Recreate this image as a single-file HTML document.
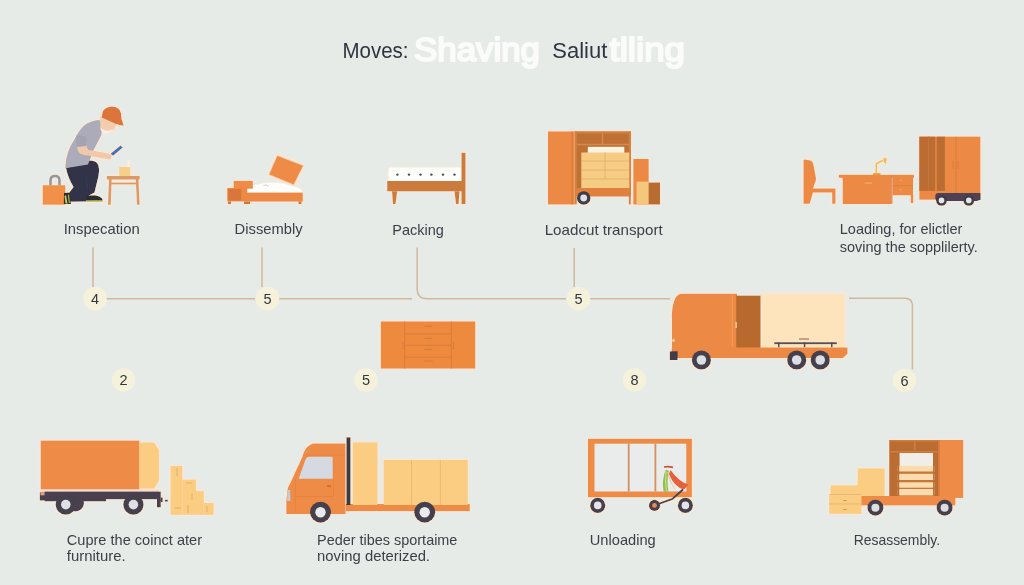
<!DOCTYPE html>
<html><head><meta charset="utf-8">
<style>
html,body{margin:0;padding:0;width:1024px;height:585px;overflow:hidden;background:#e6ebe8;}
svg{position:absolute;left:0;top:0;display:block;filter:blur(0.3px);}
text{font-family:"Liberation Sans",sans-serif;}
</style></head>
<body>
<svg width="1024" height="585" viewBox="0 0 1024 585">
<defs>
<filter id="halo" x="-5%" y="-5%" width="110%" height="110%">
<feMorphology in="SourceAlpha" operator="dilate" radius="0.9" result="d"/>
<feFlood flood-color="#fbe7d3" result="c"/>
<feComposite in="c" in2="d" operator="in" result="h"/>
<feMerge><feMergeNode in="h"/><feMergeNode in="SourceGraphic"/></feMerge>
</filter>
<radialGradient id="bg" cx="50%" cy="45%" r="75%">
<stop offset="0" stop-color="#e9edea"/>
<stop offset="1" stop-color="#e3e8e4"/>
</radialGradient>
</defs>
<rect width="1024" height="585" fill="#e6ebe8"/>

<!-- TITLE -->
<g id="title">
<text x="342.5" y="58.3" font-size="22.5" fill="#2e3540" textLength="66" lengthAdjust="spacingAndGlyphs">Moves:</text>
<text x="414" y="61" font-size="34" fill="#fafbfa" stroke="#fafbfa" stroke-width="2" stroke-linejoin="round" textLength="126" lengthAdjust="spacingAndGlyphs">Shaving</text>
<text x="552.3" y="58.3" font-size="22.5" fill="#2e3540" textLength="55" lengthAdjust="spacingAndGlyphs">Saliut</text>
<text x="609.5" y="61" font-size="34" fill="#fafbfa" stroke="#fafbfa" stroke-width="2" stroke-linejoin="round" textLength="75.5" lengthAdjust="spacingAndGlyphs">tlling</text>
</g>

<!-- LABELS -->
<g fill="#3d4147" font-size="14.5">
<text x="63.7" y="234.4" textLength="76" lengthAdjust="spacingAndGlyphs">Inspecation</text>
<text x="234.6" y="234.4" textLength="68" lengthAdjust="spacingAndGlyphs">Dissembly</text>
<text x="392.3" y="234.6" textLength="51.6" lengthAdjust="spacingAndGlyphs">Packing</text>
<text x="544.7" y="234.6" textLength="118" lengthAdjust="spacingAndGlyphs">Loadcut transport</text>
<text x="839.8" y="233.9" textLength="122.6" lengthAdjust="spacingAndGlyphs">Loading, for elictler</text>
<text x="839.8" y="251.5" textLength="138" lengthAdjust="spacingAndGlyphs">soving the sopplilerty.</text>
</g>
<g fill="#3d4147" font-size="15">
<text x="66.8" y="544.9" textLength="135.2" lengthAdjust="spacingAndGlyphs">Cupre the coinct ater</text>
<text x="66.8" y="561.2" textLength="58.8" lengthAdjust="spacingAndGlyphs">furniture.</text>
<text x="317.1" y="544.9" textLength="140.3" lengthAdjust="spacingAndGlyphs">Peder tibes sportaime</text>
<text x="317.1" y="561.2" textLength="112.9" lengthAdjust="spacingAndGlyphs">noving deterized.</text>
<text x="589.8" y="544.6" textLength="65.9" lengthAdjust="spacingAndGlyphs">Unloading</text>
<text x="853.7" y="544.6" textLength="86.4" lengthAdjust="spacingAndGlyphs">Resassembly.</text>
</g>

<!-- CONNECTOR LINES -->
<g stroke="#d3b79b" stroke-width="1.5" fill="none">
<line x1="93" y1="247.5" x2="93" y2="287"/>
<line x1="262" y1="247.5" x2="262" y2="287"/>
<line x1="574.2" y1="248" x2="574.2" y2="287"/>
<line x1="106" y1="298.7" x2="255" y2="298.7"/>
<line x1="279" y1="298.7" x2="412" y2="298.7"/>
<path d="M417.2 247.5 V289 Q417.2 298.7 427 298.7 H566"/>
<line x1="590" y1="298.7" x2="670" y2="298.7"/>
<path d="M849 298.2 H905 Q912.4 298.2 912.4 305.6 V369.6"/>
</g>

<!-- ICON 1: INSPECTION -->
<g id="ic1" filter="url(#halo)">
<!-- bag -->
<path d="M50.5 185.5 V180.5 Q50.5 176 55 176 Q59.5 176 59.5 180.5 V185.5" stroke="#9096a2" stroke-width="2.6" fill="none"/>
<rect x="42.7" y="185.2" width="22.6" height="19.5" fill="#f09048"/>
<!-- table -->
<rect x="106.9" y="176" width="32.8" height="3.5" fill="#d99a68"/>
<rect x="109" y="182.6" width="29" height="1.8" fill="#d99a68"/>
<path d="M109 179 L108 204.7 L110.8 204.7 L111.6 179 Z" fill="#d99a68"/>
<path d="M135.8 179 L137 204.7 L139.6 204.7 L138.4 179 Z" fill="#d99a68"/>
<!-- glass -->
<rect x="119.2" y="167" width="11" height="9" fill="#f4d08a"/>
<path d="M128 167 L129.3 160" stroke="#f6f6f3" stroke-width="1.3"/>
<!-- pants -->
<path d="M66 168 L87 160.6 Q95 160 97.5 163.5 Q100 168 98.5 176 L94.5 192.6 L89 195.5 L86 201.5 L70.5 201.8 Q67.5 197 69 193 L73.5 187 Q68 178 66 168 Z" fill="#30314a"/>
<path d="M86 176 Q88 184 87 190" stroke="#3d3e58" stroke-width="0.8" fill="none"/>
<!-- shoes -->
<path d="M86.5 195.4 L95 195.2 Q101 196.5 102.5 199 L102.5 200.8 L86 201 Z" fill="#2c2d33"/>
<path d="M86 200.3 L102.5 200.3 L102.5 201.8 L86 201.8 Z" fill="#b5bf48"/>
<path d="M64 193 L69.5 192.6 L71 203.9 L63.9 203.9 Z" fill="#2c2d33"/>
<path d="M64.5 196 L66 195 L67.5 203.5 L65.5 203.5 Z" fill="#c8cc4c"/>
<path d="M68 195 L69 194.5 L69.8 203 L68.8 203 Z" fill="#c8cc4c"/>
<!-- torso -->
<path d="M65.4 166 Q66 152 74.4 139.5 Q79 130 83.9 125.7 Q90 121 98 120 L102 121 L101.5 134.7 L93.5 150.3 L88 164.4 L65.3 168.2 Z" fill="#ababb9"/>
<!-- arm -->
<path d="M77.5 143 Q76.5 149 79 152.5 Q82 155 88 155.5 L104 158.5 L110.5 159.5 L112 154.5 L104 152.8 L88 149.8 L85 142 Z" fill="#f1c8a8"/>
<path d="M76 136 Q81 134 86.5 137.5 L86 146 L77 147 Z" fill="#a3a3b1"/>
<!-- head -->
<path d="M100 116 L112 119 L116.5 124 L114 130 L104 131 L100.5 129.9 Z" fill="#f3cdb0"/>
<path d="M100.5 127.5 Q104 131 109 131 Q112 130.5 113.5 129 Q110 133.5 104.5 133 Q101 132 100.5 127.5 Z" fill="#f4f1ec"/>
<!-- cap -->
<path d="M101.9 117.4 Q101.5 107.5 111.5 106.6 Q119.5 106.8 121 113.2 L121.5 119 Q123 122.5 123.6 125.7 Q119 125 116.2 123.9 Z" fill="#db753a"/>
<!-- phone -->
<path d="M110.8 153.6 L120.6 145.4 L122.8 147.5 L113 155.8 Z" fill="#3f72b8"/>
</g>

<!-- ICON 2: DISASSEMBLY -->
<g id="ic2" filter="url(#halo)">
<path d="M247.5 192.8 V187.3 Q257 184.5 265 183 Q274 181.8 282 183.2 L294 186.5 Q300.5 188.5 301.5 190.5 V192.8 Z" fill="#fdfdfc"/>
<path d="M263.5 185.8 L266 184.8 L268.5 186.5" stroke="#b8bec6" stroke-width="0.7" fill="none"/>
<rect x="245.8" y="192.6" width="57" height="9" fill="#ec8a44"/>
<rect x="247" y="201.5" width="3" height="2.5" fill="#c97a3c"/>
<rect x="298.5" y="201.5" width="3" height="2.5" fill="#c97a3c"/>
<rect x="233.6" y="181" width="19.2" height="7.7" fill="#ee8c46"/>
<rect x="227.2" y="188" width="20" height="13.5" fill="#ec8a44"/>
<rect x="228.2" y="189" width="13" height="11.5" fill="#d9773a"/>
<rect x="228" y="201.5" width="3" height="2.5" fill="#c97a3c"/>
<rect x="244" y="201.5" width="3" height="2.5" fill="#c97a3c"/>
<path d="M277.2 155.4 L303.5 165.6 L293.8 184.9 L268.8 174.6 Z" fill="#ee8c46" stroke="#f7d3b3" stroke-width="0.8"/>
</g>

<!-- ICON 3: PACKING BED -->
<g id="ic3" filter="url(#halo)">
<path d="M390 167.6 H460 Q462.5 167.6 462.5 170 V181 H388.5 V170 Q388.5 167.6 391 167.6 Z" fill="#fdfdfc"/>
<g fill="#4a4b55">
<circle cx="397.4" cy="174.6" r="1.2"/><circle cx="409" cy="174.6" r="1.2"/><circle cx="420.5" cy="174.6" r="1.2"/>
<circle cx="431.4" cy="174.6" r="1.2"/><circle cx="443" cy="174.6" r="1.2"/><circle cx="454.5" cy="174.6" r="1.2"/>
</g>
<rect x="387.2" y="181" width="76" height="10.3" fill="#cb7c3e"/>
<path d="M392 191.3 L397.2 191.3 L395.5 204 L393 204 Z" fill="#cb7c3e"/>
<path d="M454.5 191.3 L459.5 191.3 L458.5 204 L456 204 Z" fill="#cb7c3e"/>
<rect x="461.5" y="152.8" width="4" height="51.2" fill="#cb7c3e"/>
</g>

<!-- ICON 4: WARDROBE LOADING -->
<g id="ic4" filter="url(#halo)">
<rect x="574.8" y="131.4" width="56" height="65" fill="#bf7136"/>
<rect x="574.8" y="131.4" width="56" height="2" fill="#d0823f"/>
<rect x="574.8" y="143.8" width="56" height="1.4" fill="#d48a48"/>
<rect x="601.8" y="131.4" width="1.4" height="13" fill="#d48a48"/>
<rect x="628.8" y="131.4" width="2" height="73" fill="#d0823f"/>
<rect x="574.8" y="131.4" width="2" height="73" fill="#d0823f"/>
<rect x="587.8" y="146.8" width="36.5" height="6.5" fill="#fbf3e2"/>
<rect x="581.3" y="152.5" width="48" height="35.7" fill="#f6cc84"/>
<g stroke="#ddaa62" stroke-width="0.7">
<line x1="581.3" y1="161" x2="629.3" y2="161"/>
<line x1="581.3" y1="170" x2="629.3" y2="170"/>
<line x1="581.3" y1="179" x2="629.3" y2="179"/>
<line x1="605" y1="152.5" x2="605" y2="179"/>
</g>
<rect x="576" y="188.2" width="53" height="8" fill="#e0823c"/>
<rect x="548" y="131.4" width="26.8" height="73.1" fill="#ec8a44"/>
<rect x="571.5" y="131.4" width="1.2" height="73.1" fill="#d57b3c"/>
<circle cx="583.7" cy="198" r="6.8" fill="#3f3c45"/>
<circle cx="583.7" cy="198" r="3.4" fill="#dfe2e8"/>
<rect x="633.3" y="159" width="15.4" height="45.5" fill="#ec8a44"/>
<rect x="636.5" y="181.7" width="12.2" height="22.8" fill="#f5c77c"/>
<rect x="648.7" y="182.5" width="11.3" height="22" fill="#b96c31"/>
</g>

<!-- ICON 5: DESK + WARDROBE -->
<g id="ic5" filter="url(#halo)">
<path d="M803.5 160 Q803.5 159.5 805 159.5 L810.5 160.5 Q812.5 161 813.5 165 L816 178.5 Q816.3 181 814.5 184 L813 188.5 L835.5 188.5 L835.5 203.7 L832.2 203.7 L832.2 192.4 L813 192.4 L809.7 203.7 L803.5 203.7 Z" fill="#ec8a44"/>
<rect x="873" y="173" width="7.5" height="2" fill="#e2a848"/><path d="M876.3 173.5 V163.8 L883 160.2" stroke="#e8c060" stroke-width="1.6" fill="none"/><path d="M883.5 157.5 L886.8 158.5 L886 164.5 L883.5 161.5 Z" fill="#e8c060"/>
<rect x="838.8" y="174.8" width="75.2" height="3" fill="#ec8a44"/>
<rect x="842.7" y="176.8" width="49" height="27.2" fill="#ec8a44"/>
<rect x="864.6" y="182.6" width="7.3" height="0.9" fill="#f7b47c"/>
<rect x="892.5" y="176.8" width="20.5" height="18.5" fill="#ec8a44"/>
<rect x="892.5" y="185.4" width="20.5" height="0.7" fill="#d67d3c"/><rect x="899.5" y="179.8" width="2" height="0.8" fill="#f7b47c"/><rect x="899.5" y="189.5" width="2" height="0.8" fill="#f7b47c"/>
<rect x="891.5" y="176.8" width="1" height="27" fill="#d47f3e"/>
<rect x="910.8" y="195" width="2.4" height="8" fill="#ec8a44"/>
<rect x="919.3" y="136.6" width="61.1" height="63.1" fill="#ec8a44"/>
<rect x="919.3" y="136.6" width="16" height="54.3" fill="#bb6c32"/>
<rect x="936.7" y="136.6" width="8.2" height="54.3" fill="#bb6c32"/>
<rect x="928" y="136.6" width="1" height="54.3" fill="#c47538"/>
<rect x="955.6" y="136.6" width="0.8" height="63" fill="#d7793a"/>
<rect x="952.7" y="160.8" width="0.8" height="8.2" fill="#d27a3c"/>
<rect x="957.6" y="160.8" width="0.8" height="8.2" fill="#d27a3c"/>
<rect x="935.3" y="192.9" width="44.4" height="8.2" rx="3" fill="#4f4058"/>
<rect x="977.5" y="193" width="3" height="7" fill="#4a3f55"/>
<circle cx="941.5" cy="200.4" r="5.4" fill="#3f3c45"/>
<circle cx="941.5" cy="200.4" r="2.8" fill="#e4e6ec"/>
<circle cx="968.8" cy="200.4" r="5.4" fill="#3f3c45"/>
<circle cx="968.8" cy="200.4" r="2.8" fill="#e4e6ec"/>
</g>

<!-- ICON 6: DRESSER -->
<g id="ic6" filter="url(#halo)">
<rect x="380.8" y="321.4" width="94.5" height="47.2" fill="#ee8a3e"/>
<g stroke="#d9793a" stroke-width="0.9" fill="none">
<line x1="404.7" y1="321.4" x2="404.7" y2="368.6"/>
<line x1="451.3" y1="321.4" x2="451.3" y2="368.6"/>
<line x1="404.7" y1="333.9" x2="451.3" y2="333.9"/>
<line x1="404.7" y1="345.3" x2="451.3" y2="345.3"/>
<line x1="404.7" y1="357.2" x2="451.3" y2="357.2"/>
</g>
<g fill="#d47a3c">
<rect x="424.5" y="325.8" width="8" height="1"/>
<rect x="424.5" y="337.8" width="8" height="1"/>
<rect x="424.5" y="349" width="8" height="1"/>
<rect x="424.5" y="360.5" width="8" height="1"/>
<rect x="402.5" y="342" width="1" height="7"/>
<rect x="453" y="342" width="1" height="7"/>
</g>
</g>

<!-- ICON 7: BIG VAN -->
<g id="ic7" filter="url(#halo)">
<path d="M681.5 293.7 H737 V348.4 H672 V320 C671.5 305 675 293.7 681.5 293.7 Z" fill="#ec8a44"/>
<rect x="731.8" y="295" width="1.2" height="52" fill="#f39a58"/>
<rect x="736.2" y="295.6" width="24.4" height="52.8" fill="#b86a2e"/>
<rect x="735.5" y="322" width="1.2" height="6" fill="#f9d9b5"/>
<rect x="761.6" y="293.7" width="83" height="53.7" fill="#fde4bc"/>
<rect x="799" y="338.5" width="10" height="1" fill="#8a6048"/>
<rect x="774.3" y="342.3" width="62.5" height="1.8" fill="#55505a"/>
<rect x="778" y="342.3" width="1.5" height="5" fill="#55505a"/>
<rect x="803.8" y="342.3" width="1.5" height="5" fill="#55505a"/>
<rect x="831" y="342.3" width="1.5" height="5" fill="#55505a"/>
<path d="M671.7 347.4 H847.5 V353.8 L843 358.1 H671.7 Z" fill="#ec8a44"/>
<rect x="669.8" y="351.3" width="7.8" height="8.7" fill="#3f3c4a"/>
<circle cx="673.5" cy="340.4" r="1.6" fill="#f6c89a"/>
<g>
<circle cx="701.4" cy="360" r="9.6" fill="#45414b"/><circle cx="701.4" cy="360" r="4.8" fill="#dcdee4"/>
<circle cx="796.7" cy="360" r="9.6" fill="#45414b"/><circle cx="796.7" cy="360" r="4.8" fill="#dcdee4"/>
<circle cx="820.2" cy="360" r="9.6" fill="#45414b"/><circle cx="820.2" cy="360" r="4.8" fill="#dcdee4"/>
</g>
</g>

<!-- ICON 8: TRAILER TRUCK -->
<g id="ic8" filter="url(#halo)">
<rect x="40.7" y="440.6" width="98.7" height="48.9" fill="#ee8c46"/>
<path d="M139.4 442.6 H154 L158.9 450 V481 L154 488.5 H139.4 Z" fill="#facd82"/>
<rect x="40.7" y="489.5" width="118" height="2.2" fill="#f6dcc4"/>
<rect x="44.6" y="491.6" width="112.8" height="7.6" fill="#4a4050"/>
<rect x="44.6" y="499" width="61.4" height="2.3" fill="#4a4050"/>
<rect x="39.8" y="492.3" width="5.5" height="8.2" fill="#4a4050"/>
<rect x="40.5" y="492.3" width="4" height="3" fill="#e9a07e"/>
<circle cx="75.5" cy="503" r="8.5" fill="#4a4050"/>
<rect x="157" y="491.6" width="3.8" height="15.7" fill="#4a4050"/>
<rect x="160.5" y="497.5" width="2.2" height="4.5" fill="#4a4050"/>
<rect x="165" y="499.8" width="2.8" height="1.8" fill="#4a4050"/>
<circle cx="65.8" cy="504.6" r="10.2" fill="#45414b"/><circle cx="65.8" cy="504.6" r="4.8" fill="#dfe0e6"/>
<circle cx="133.4" cy="504.6" r="10.2" fill="#45414b"/><circle cx="133.4" cy="504.6" r="4.8" fill="#dfe0e6"/>
<rect x="170.6" y="466" width="11.7" height="48.8" fill="#facd82"/>
<rect x="182.3" y="479.7" width="13.7" height="35.1" fill="#facd82"/>
<rect x="196" y="491" width="7.8" height="23.8" fill="#facd82"/>
<rect x="203.8" y="503" width="9.8" height="11.8" fill="#facd82"/>
<g stroke="#c9a060" stroke-width="0.6" fill="none">
<line x1="177" y1="468" x2="177" y2="476"/>
<line x1="186" y1="483" x2="192" y2="483"/>
<line x1="192" y1="493" x2="192" y2="500"/>
<line x1="175" y1="508" x2="181" y2="508"/>
<line x1="188" y1="505" x2="188" y2="513"/>
<line x1="207" y1="506" x2="207" y2="512"/>
</g>
</g>

<!-- ICON 9: FLATBED TRUCK -->
<g id="ic9" filter="url(#halo)">
<path d="M313 443.6 H345.5 V514 H286.3 V501 L287.8 488 L291 481.5 L302.5 456.5 Q305 446 313 443.6 Z" fill="#ee8c46"/>
<path d="M306 455 H345" stroke="#e07f3e" stroke-width="0.7"/>
<path d="M295.4 479 V512 M295.4 496.5 H333.5 V479" stroke="#df7e3d" stroke-width="0.6" fill="none"/>
<path d="M309 456.8 H331.5 Q332.7 456.8 332.7 458 V478.7 H298.7 L305.5 459.5 Q306.5 456.8 309 456.8 Z" fill="#d5d9e1"/>
<rect x="327" y="485.5" width="4" height="1.3" fill="#b8622c"/>
<rect x="287.3" y="490" width="3" height="11" fill="#c6cad2"/>
<rect x="345.8" y="504" width="124" height="7.1" fill="#ee8c46"/>
<rect x="352.9" y="442.4" width="24.6" height="62.6" fill="#facd82"/>
<rect x="383.7" y="459.9" width="84.1" height="45.1" fill="#facd82"/>
<rect x="411.2" y="459.9" width="0.6" height="45" fill="#e3ae62"/>
<rect x="439.9" y="459.9" width="0.6" height="45" fill="#e3ae62"/>
<rect x="346.4" y="437.3" width="4.1" height="67.7" fill="#3c3a42"/>
<circle cx="320.5" cy="512.2" r="10.5" fill="#45414b"/><circle cx="320.5" cy="512.2" r="5.2" fill="#e8eaee"/>
<circle cx="424.7" cy="512.2" r="10.5" fill="#45414b"/><circle cx="424.7" cy="512.2" r="5.2" fill="#e8eaee"/>
</g>

<!-- ICON 10: UNLOADING CART -->
<g id="ic10" filter="url(#halo)">
<rect x="588" y="438.8" width="103.9" height="58.4" fill="#ee8c46"/>
<rect x="594.5" y="443.7" width="91.8" height="47.8" fill="#e9eceb"/>
<rect x="627.8" y="443.7" width="1.8" height="47.8" fill="#d59060"/>
<rect x="654.5" y="443.7" width="1.8" height="47.8" fill="#d59060"/>
<path d="M670.5 470 Q679 482 688.5 484.5 L684 489.5 Q674 487 669 474 Z" fill="#e5603a"/>
<path d="M665.5 470 Q661.5 481 663.6 491.8 L668.4 491.5 Q666.5 481 668.8 470.5 Z" fill="#8ec050"/>
<path d="M666 471 Q665 481 666.3 491" stroke="#f3e3a0" stroke-width="0.8" fill="none"/>
<path d="M667.5 472 Q670 482 674.5 489" stroke="#f0c080" stroke-width="0.8" fill="none"/>
<path d="M664 467 Q668 466 673 467.3" stroke="#c4553a" stroke-width="1.8" fill="none"/>
<path d="M654.5 505.4 L672.4 498.9 L683 489.5" stroke="#45414b" stroke-width="1.8" fill="none"/>
<circle cx="597.7" cy="505.4" r="7.6" fill="#45414b"/><circle cx="597.7" cy="505.4" r="3.8" fill="#e4e6ec"/>
<circle cx="685.4" cy="505.4" r="7.6" fill="#45414b"/><circle cx="685.4" cy="505.4" r="3.8" fill="#e4e6ec"/>
<circle cx="654.5" cy="505.4" r="5.6" fill="#45414b"/><circle cx="654.5" cy="505.4" r="2.4" fill="#e88a5a"/>
</g>

<!-- ICON 11: REASSEMBLY TRUCK -->
<g id="ic11" filter="url(#halo)">
<rect x="889.2" y="440" width="73.9" height="57.7" fill="#bb6c32"/>
<rect x="889.2" y="440" width="73.9" height="1.5" fill="#cf7f3e"/>
<rect x="889.2" y="451" width="49.3" height="1.5" fill="#cf7f3e"/>
<rect x="914" y="440" width="1.5" height="11.5" fill="#cf7f3e"/>
<rect x="897.7" y="453" width="36.9" height="43" fill="#c57838"/>
<rect x="899.5" y="453" width="33.5" height="13" fill="#f1eee8"/>
<rect x="897.7" y="466" width="36.9" height="5.5" fill="#fbdcae"/>
<rect x="897.7" y="473.8" width="36.9" height="6.2" fill="#fbdcae"/>
<rect x="897.7" y="482.3" width="36.9" height="5.4" fill="#fbdcae"/>
<rect x="897.7" y="489" width="36.9" height="6.4" fill="#fbdcae"/>
<rect x="897.7" y="453" width="1.5" height="43" fill="#bb6c32"/>
<rect x="933.1" y="453" width="1.5" height="43" fill="#bb6c32"/>
<rect x="938.5" y="440" width="24.6" height="57.7" fill="#ee8c46"/>
<rect x="938.5" y="440" width="1.2" height="57.7" fill="#d57b3c"/>
<rect x="859.2" y="496" width="96.2" height="9.4" fill="#ee8c46"/>
<rect x="857.7" y="468.5" width="26.9" height="27.5" fill="#facd82"/>
<rect x="830.5" y="485.4" width="31" height="9.2" fill="#facd82"/>
<rect x="829.2" y="494.6" width="32.3" height="9.4" fill="#facd82"/>
<rect x="829.2" y="504" width="32.3" height="9.8" fill="#facd82"/>
<rect x="829.2" y="494.2" width="32.3" height="0.7" fill="#e0b066"/>
<rect x="829.2" y="503.6" width="32.3" height="0.7" fill="#e0b066"/>
<rect x="843" y="500" width="4" height="0.8" fill="#c99850"/>
<rect x="843" y="509" width="4" height="0.8" fill="#c99850"/>
<circle cx="875.4" cy="507.7" r="8" fill="#45414b"/><circle cx="875.4" cy="507.7" r="4" fill="#dcdee4"/>
<circle cx="944.6" cy="507.7" r="8" fill="#45414b"/><circle cx="944.6" cy="507.7" r="4" fill="#dcdee4"/>
</g>

<!-- NUMBER CIRCLES -->
<g font-size="14.5" fill="#33373d" text-anchor="middle">
<circle cx="95" cy="298.7" r="11.8" fill="#f6f1da"/><text x="95" y="303.6">4</text>
<circle cx="267.5" cy="298.7" r="11.8" fill="#f6f1da"/><text x="267.5" y="303.6">5</text>
<circle cx="578.5" cy="298.7" r="11.8" fill="#f6f1da"/><text x="578.5" y="303.6">5</text>
<circle cx="123.5" cy="380" r="11.8" fill="#f6f1da"/><text x="123.5" y="385">2</text>
<circle cx="366" cy="380" r="11.8" fill="#f6f1da"/><text x="366" y="385">5</text>
<circle cx="634.5" cy="380" r="11.8" fill="#f6f1da"/><text x="634.5" y="385">8</text>
<circle cx="904.5" cy="380.5" r="11.8" fill="#f6f1da"/><text x="904.5" y="385.5">6</text>
</g>

</svg>
</body></html>
